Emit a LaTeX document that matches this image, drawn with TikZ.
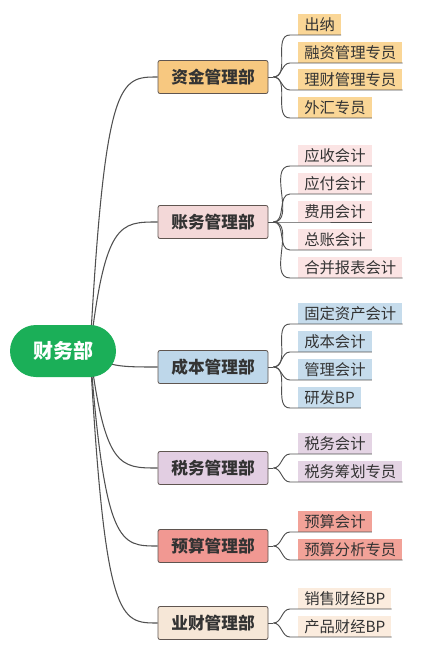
\documentclass[tikz,border=0pt]{standalone}
\usepackage{fontspec}
\setmainfont{Noto Sans CJK SC}
\usepackage{tikz}
\usetikzlibrary{calc, backgrounds}
\definecolor{rootgreen}{RGB}{27,175,88}
\definecolor{linegray}{RGB}{80,80,80}
\definecolor{boxline}{RGB}{95,85,80}
\definecolor{goldA}{RGB}{247,200,128}
\definecolor{goldB}{RGB}{250,214,150}
\definecolor{pinkA}{RGB}{243,216,216}
\definecolor{pinkB}{RGB}{251,228,228}
\definecolor{blueA}{RGB}{190,215,234}
\definecolor{blueB}{RGB}{198,220,236}
\definecolor{lilacA}{RGB}{226,206,226}
\definecolor{lilacB}{RGB}{228,212,228}
\definecolor{salmonA}{RGB}{241,152,146}
\definecolor{salmonB}{RGB}{242,162,152}
\definecolor{sandA}{RGB}{246,231,215}
\definecolor{sandB}{RGB}{251,236,222}
\tikzset{
  root/.style={rounded corners=19.5pt, fill=rootgreen, text=white,
    minimum width=79.5pt, minimum height=39pt,
    font=\fontsize{15}{18}\selectfont\bfseries},
  dept/.style={draw=boxline, line width=0.6pt, rounded corners=1.5pt,
    minimum width=82.5pt, minimum height=24.75pt, text=black!80,
    font=\fontsize{12.5}{15}\selectfont\bfseries},
  leaf/.style={anchor=south west, inner xsep=4.5pt, inner ysep=0pt,
    minimum height=15.75pt, text=black!80,
    font=\fontsize{11.5}{14}\selectfont},
  branch/.style={draw=linegray, line width=0.8pt},
  twig/.style={draw=linegray, line width=0.7pt}
}

\begin{document}
\begin{tikzpicture}[x=0.75pt, y=-0.75pt]
      \useasboundingbox (0,0) rectangle (442,670);
      \node[root] (cw) at (63,351) {财务部};
      \node[dept, fill=goldA] (zj) at (213,77) {资金管理部};
      \node[dept, fill=pinkA] (zw) at (213,222) {账务管理部};
      \node[dept, fill=blueA] (cb) at (213,367) {成本管理部};
      \node[dept, fill=lilacA] (sw) at (213,468) {税务管理部};
      \node[dept, fill=salmonA] (ys) at (213,546) {预算管理部};
      \node[dept, fill=sandA] (yc) at (213,623) {业财管理部};
      \coordinate (cwk) at ($(cw.center)+(27,0)$);
      \begin{scope}[on background layer]
      \draw[branch] (cwk) .. controls ($(cwk |- zj.west)+(15,0)$) and ($(cwk |- zj.west)+(30,0)$) .. (zj.west);
      \draw[branch] (cwk) .. controls ($(cwk |- zw.west)+(15,0)$) and ($(cwk |- zw.west)+(30,0)$) .. (zw.west);
      \draw[branch] (cwk) .. controls ($(cwk |- cb.west)+(15,0)$) and ($(cwk |- cb.west)+(30,0)$) .. (cb.west);
      \draw[branch] (cwk) .. controls ($(cwk |- sw.west)+(15,0)$) and ($(cwk |- sw.west)+(30,0)$) .. (sw.west);
      \draw[branch] (cwk) .. controls ($(cwk |- ys.west)+(15,0)$) and ($(cwk |- ys.west)+(30,0)$) .. (ys.west);
      \draw[branch] (cwk) .. controls ($(cwk |- yc.west)+(15,0)$) and ($(cwk |- yc.west)+(30,0)$) .. (yc.west);
      \end{scope}
      \node[leaf, fill=goldB] (zj1) at (298,35) {出纳};
      \node[leaf, fill=goldB] (zj2) at (298,63) {融资管理专员};
      \node[leaf, fill=goldB] (zj3) at (298,90) {理财管理专员};
      \node[leaf, fill=goldB] (zj4) at (298,118) {外汇专员};
      \node[leaf, fill=pinkB] (zw1) at (298,166) {应收会计};
      \node[leaf, fill=pinkB] (zw2) at (298,194) {应付会计};
      \node[leaf, fill=pinkB] (zw3) at (298,222) {费用会计};
      \node[leaf, fill=pinkB] (zw4) at (298,250) {总账会计};
      \node[leaf, fill=pinkB] (zw5) at (298,278) {合并报表会计};
      \node[leaf, fill=blueB] (cb1) at (298,324) {固定资产会计};
      \node[leaf, fill=blueB] (cb2) at (298,352) {成本会计};
      \node[leaf, fill=blueB] (cb3) at (298,380) {管理会计};
      \node[leaf, fill=blueB] (cb4) at (298,408) {研发BP};
      \node[leaf, fill=lilacB] (sw1) at (298,454) {税务会计};
      \node[leaf, fill=lilacB] (sw2) at (298,482) {税务筹划专员};
      \node[leaf, fill=salmonB] (ys1) at (298,532) {预算会计};
      \node[leaf, fill=salmonB] (ys2) at (298,560) {预算分析专员};
      \node[leaf, fill=sandB] (yc1) at (298,609) {销售财经BP};
      \node[leaf, fill=sandB] (yc2) at (298,637) {产品财经BP};
      \coordinate (zjk) at ($(zj.east)+(5,0)$);
      \coordinate (zwk) at ($(zw.east)+(5,0)$);
      \coordinate (cbk) at ($(cb.east)+(5,0)$);
      \coordinate (swk) at ($(sw.east)+(5,0)$);
      \coordinate (ysk) at ($(ys.east)+(5,0)$);
      \coordinate (yck) at ($(yc.east)+(5,0)$);
      \draw[twig] (zj.east) -- (zjk);
      \draw[twig] (zw.east) -- (zwk);
      \draw[twig] (cb.east) -- (cbk);
      \draw[twig] (sw.east) -- (swk);
      \draw[twig] (ys.east) -- (ysk);
      \draw[twig] (yc.east) -- (yck);
      \draw[twig] (zjk) to[out=0,in=180] ($(zj1.south west)+(-8,0)$) -- (zj1.south east);
      \draw[twig] (zjk) to[out=0,in=180] ($(zj2.south west)+(-8,0)$) -- (zj2.south east);
      \draw[twig] (zjk) to[out=0,in=180] ($(zj3.south west)+(-8,0)$) -- (zj3.south east);
      \draw[twig] (zjk) to[out=0,in=180] ($(zj4.south west)+(-8,0)$) -- (zj4.south east);
      \draw[twig] (zwk) to[out=0,in=180] ($(zw1.south west)+(-8,0)$) -- (zw1.south east);
      \draw[twig] (zwk) to[out=0,in=180] ($(zw2.south west)+(-8,0)$) -- (zw2.south east);
      \draw[twig] (zwk) to[out=0,in=180] ($(zw3.south west)+(-8,0)$) -- (zw3.south east);
      \draw[twig] (zwk) to[out=0,in=180] ($(zw4.south west)+(-8,0)$) -- (zw4.south east);
      \draw[twig] (zwk) to[out=0,in=180] ($(zw5.south west)+(-8,0)$) -- (zw5.south east);
      \draw[twig] (cbk) to[out=0,in=180] ($(cb1.south west)+(-8,0)$) -- (cb1.south east);
      \draw[twig] (cbk) to[out=0,in=180] ($(cb2.south west)+(-8,0)$) -- (cb2.south east);
      \draw[twig] (cbk) to[out=0,in=180] ($(cb3.south west)+(-8,0)$) -- (cb3.south east);
      \draw[twig] (cbk) to[out=0,in=180] ($(cb4.south west)+(-8,0)$) -- (cb4.south east);
      \draw[twig] (swk) to[out=0,in=180] ($(sw1.south west)+(-8,0)$) -- (sw1.south east);
      \draw[twig] (swk) to[out=0,in=180] ($(sw2.south west)+(-8,0)$) -- (sw2.south east);
      \draw[twig] (ysk) to[out=0,in=180] ($(ys1.south west)+(-8,0)$) -- (ys1.south east);
      \draw[twig] (ysk) to[out=0,in=180] ($(ys2.south west)+(-8,0)$) -- (ys2.south east);
      \draw[twig] (yck) to[out=0,in=180] ($(yc1.south west)+(-8,0)$) -- (yc1.south east);
      \draw[twig] (yck) to[out=0,in=180] ($(yc2.south west)+(-8,0)$) -- (yc2.south east);
    \end{tikzpicture}
\end{document}
